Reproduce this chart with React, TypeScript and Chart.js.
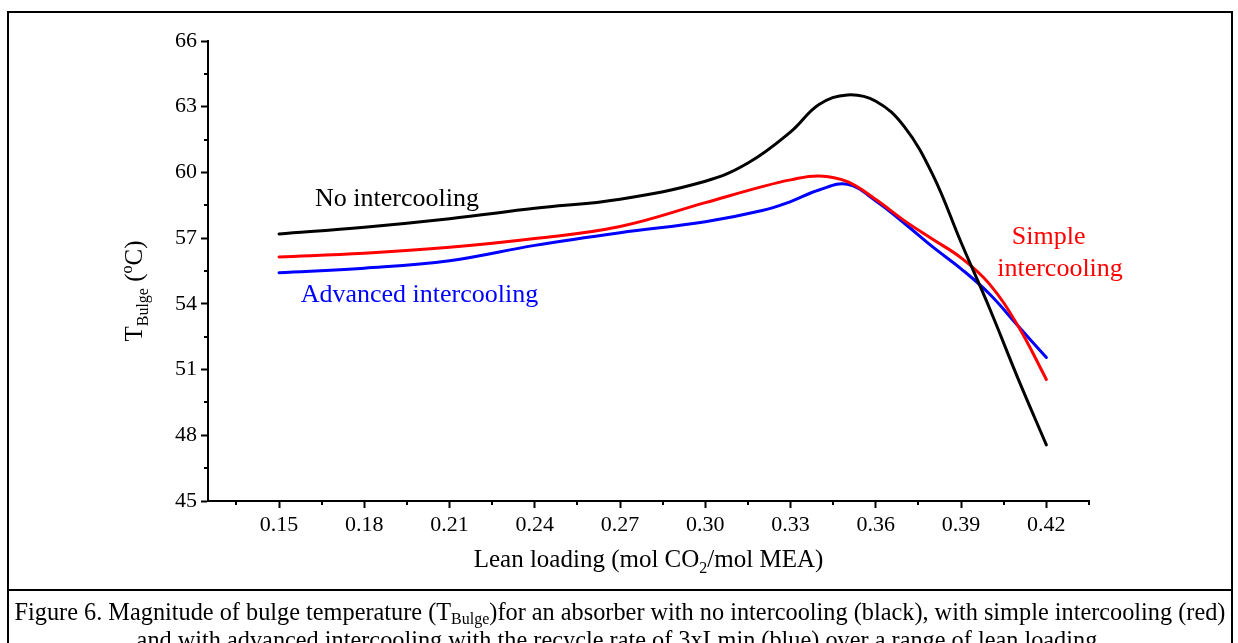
import React, { useEffect, useRef } from "react";
import { Chart, registerables } from "chart.js";

Chart.register(...registerables);

// Lean loading (mol CO2/mol MEA) sample points and bulge temperatures (°C)
const noIcLoading = [0.15, 0.18, 0.21, 0.24, 0.27, 0.3, 0.315, 0.33, 0.34, 0.35, 0.36, 0.37, 0.38, 0.39, 0.4, 0.41, 0.42];
const noIcTemp = [57.19, 57.5, 57.89, 58.36, 58.78, 59.6, 60.43, 61.85, 63.1, 63.54, 63.25, 62.09, 59.9, 56.8, 53.8, 50.6, 47.56];

const simpleLoading = [0.15, 0.18, 0.21, 0.24, 0.27, 0.3, 0.32, 0.33, 0.34, 0.35, 0.36, 0.37, 0.38, 0.39, 0.4, 0.41, 0.42];
const simpleTemp = [56.14, 56.31, 56.58, 56.98, 57.53, 58.62, 59.35, 59.66, 59.84, 59.58, 58.76, 57.8, 56.95, 56.1, 54.9, 53.0, 50.55];

const advancedLoading = [0.15, 0.18, 0.21, 0.24, 0.27, 0.3, 0.32, 0.33, 0.34, 0.35, 0.36, 0.37, 0.38, 0.39, 0.4, 0.41, 0.42];
const advancedTemp = [55.42, 55.63, 55.97, 56.67, 57.25, 57.75, 58.26, 58.67, 59.2, 59.46, 58.7, 57.68, 56.6, 55.6, 54.45, 53.0, 51.55];

const xTickValues = [0.15, 0.18, 0.21, 0.24, 0.27, 0.3, 0.33, 0.36, 0.39, 0.42];
const xMinorTicks = [0.135, 0.165, 0.195, 0.225, 0.255, 0.285, 0.315, 0.345, 0.375, 0.405, 0.435];
const yTickValues = [45, 48, 51, 54, 57, 60, 63, 66];
const yMinorTicks = [46.5, 49.5, 52.5, 55.5, 58.5, 61.5, 64.5];

const SERIF = "'Liberation Serif', 'Times New Roman', serif";

type Part = { text: string; size: number; dy?: number };

function richWidth(ctx: CanvasRenderingContext2D, parts: Part[]) {
  let w = 0;
  for (const p of parts) {
    ctx.font = `${p.size}px ${SERIF}`;
    w += ctx.measureText(p.text).width;
  }
  return w;
}

function drawRich(ctx: CanvasRenderingContext2D, parts: Part[], cx: number, y: number) {
  let x = cx - richWidth(ctx, parts) / 2;
  ctx.textAlign = "left";
  ctx.textBaseline = "alphabetic";
  for (const p of parts) {
    ctx.font = `${p.size}px ${SERIF}`;
    ctx.fillText(p.text, x, y + (p.dy || 0));
    x += ctx.measureText(p.text).width;
  }
}

const curveLabels = [
  { text: "No intercooling", x: 0.1915, y: 58.48, color: "#000000" },
  { text: "Advanced intercooling", x: 0.1994, y: 54.09, color: "#0000ff" },
  { text: "Simple", x: 0.4208, y: 56.74, color: "#ff0000" },
  { text: "intercooling", x: 0.4248, y: 55.27, color: "#ff0000" },
];

const decorPlugin = {
  id: "decor",
  afterDraw(chart: any) {
    const ctx: CanvasRenderingContext2D = chart.ctx;
    const xs = chart.scales.x;
    const ys = chart.scales.y;
    const area = chart.chartArea;
    ctx.save();
    ctx.strokeStyle = "#000";
    ctx.fillStyle = "#000";
    ctx.lineWidth = 2;
    // minor ticks
    ctx.beginPath();
    for (const v of xMinorTicks) {
      const px = Math.round(xs.getPixelForValue(v));
      ctx.moveTo(px, area.bottom);
      ctx.lineTo(px, area.bottom + 4);
    }
    for (const v of yMinorTicks) {
      const py = Math.round(ys.getPixelForValue(v));
      ctx.moveTo(area.left, py);
      ctx.lineTo(area.left - 4, py);
    }
    ctx.stroke();

    // x axis title
    drawRich(
      ctx,
      [
        { text: "Lean loading (mol CO", size: 25 },
        { text: "2", size: 16, dy: 6 },
        { text: "/mol MEA)", size: 25 },
      ],
      (area.left + area.right) / 2,
      567
    );

    // y axis title (rotated)
    ctx.save();
    ctx.translate(142, (area.top + area.bottom) / 2 + 20);
    ctx.rotate(-Math.PI / 2);
    drawRich(
      ctx,
      [
        { text: "T", size: 25 },
        { text: "Bulge", size: 16, dy: 6 },
        { text: " (", size: 25 },
        { text: "o", size: 16, dy: -10 },
        { text: "C)", size: 25 },
      ],
      0,
      0
    );
    ctx.restore();

    // curve labels
    ctx.font = `26px ${SERIF}`;
    ctx.textAlign = "center";
    ctx.textBaseline = "alphabetic";
    for (const l of curveLabels) {
      ctx.fillStyle = l.color;
      ctx.fillText(l.text, xs.getPixelForValue(l.x), ys.getPixelForValue(l.y));
    }
    ctx.restore();
  },
};

function series(xs: number[], ys: number[]) {
  return xs.map((x, i) => ({ x, y: ys[i] }));
}

export default function App() {
  const canvasRef = useRef<HTMLCanvasElement | null>(null);

  useEffect(() => {
    if (!canvasRef.current) return;
    const common = {
      borderWidth: 3,
      pointRadius: 0,
      fill: false,
      tension: 0.4,
      borderCapStyle: "round" as const,
      borderJoinStyle: "round" as const,
    };
    const chart = new Chart(canvasRef.current, {
      type: "line",
      data: {
        datasets: [
          { label: "No intercooling", data: series(noIcLoading, noIcTemp), borderColor: "#000000", ...common },
          { label: "Simple intercooling", data: series(simpleLoading, simpleTemp), borderColor: "#ff0000", ...common },
          { label: "Advanced intercooling", data: series(advancedLoading, advancedTemp), borderColor: "#0000ff", ...common },
        ],
      },
      options: {
        animation: false,
        responsive: false,
        devicePixelRatio: 1,
        layout: { padding: { left: 0, top: 41, right: 149, bottom: 0 } },
        plugins: { legend: { display: false }, tooltip: { enabled: false } },
        scales: {
          x: {
            type: "linear",
            min: 0.125,
            max: 0.435,
            afterBuildTicks: (s: any) => {
              s.ticks = xTickValues.map((value) => ({ value }));
            },
            afterFit: (s: any) => {
              s.height = 88;
            },
            ticks: {
              autoSkip: false,
              maxRotation: 0,
              padding: 4,
              color: "#000",
              font: { family: SERIF, size: 22 },
              callback: (v: any) => Number(v).toFixed(2),
            },
            grid: { drawOnChartArea: false, drawTicks: true, tickLength: 7, tickColor: "#000", tickWidth: 2 },
            border: { display: true, color: "#000", width: 2 },
          },
          y: {
            type: "linear",
            min: 45,
            max: 66,
            afterBuildTicks: (s: any) => {
              s.ticks = yTickValues.map((value) => ({ value }));
            },
            afterFit: (s: any) => {
              s.width = 208;
            },
            ticks: {
              padding: 4,
              color: "#000",
              font: { family: SERIF, size: 22 },
              callback: (v: any) => String(v),
            },
            grid: { drawOnChartArea: false, drawTicks: true, tickLength: 7, tickColor: "#000", tickWidth: 2 },
            border: { display: true, color: "#000", width: 2 },
          },
        },
      },
      plugins: [decorPlugin],
    });
    return () => chart.destroy();
  }, []);

  return (
    <div
      style={{
        position: "absolute",
        left: 0,
        top: 0,
        width: 1238,
        height: 643,
        overflow: "hidden",
        background: "#fff",
        fontFamily: SERIF,
      }}
    >
      <canvas ref={canvasRef} width={1238} height={589} style={{ position: "absolute", left: 0, top: 0, width: 1238, height: 589 }} />
      <div
        style={{
          position: "absolute",
          left: 7,
          top: 11,
          width: 1222,
          height: 700,
          border: "2px solid #000",
          boxSizing: "content-box",
        }}
      />
      <div style={{ position: "absolute", left: 7, top: 589, width: 1226, height: 2, background: "#000" }} />
      <div
        style={{
          position: "absolute",
          left: 9,
          top: 598,
          width: 1222,
          textAlign: "center",
          fontSize: 24.3,
          lineHeight: "28px",
          color: "#000",
          whiteSpace: "nowrap",
        }}
      >
        Figure 6. Magnitude of bulge temperature (T<sub style={{ fontSize: 16, verticalAlign: "-4px", lineHeight: 0 }}>Bulge</sub>)for an absorber with no intercooling (black), with simple intercooling (red)
        <br />
        and with advanced intercooling with the recycle rate of 3xLmin (blue) over a range of lean loading.
      </div>
    </div>
  );
}
